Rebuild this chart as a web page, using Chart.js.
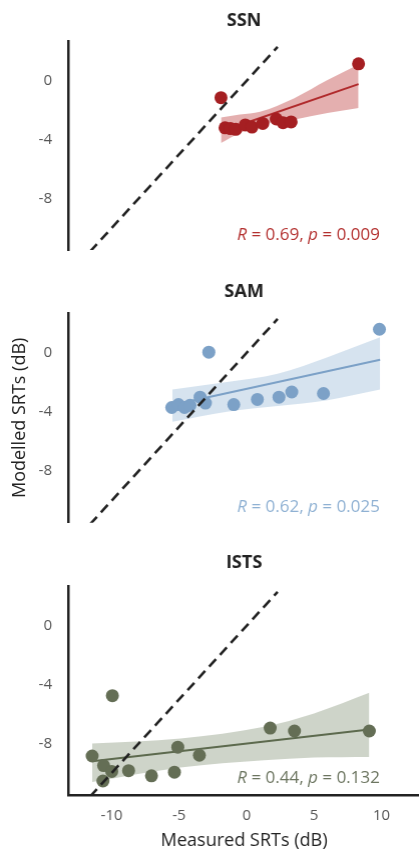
<!DOCTYPE html>
<html>
<head>
<meta charset="utf-8">
<script src="https://cdn.jsdelivr.net/npm/chart.js@4.4.1/dist/chart.umd.min.js"></script>
<style>
  html, body { margin: 0; padding: 0; background: #fff; overflow: hidden; }
  /* a bit wider than the window: Chart.js keeps ~6.5px spare for the dots on the right */
  .panel { position: absolute; left: 0; width: 425.5px; }
</style>
</head>
<body>
<div class="panel" style="top:0;height:270px"><canvas id="ssn"></canvas></div>
<div class="panel" style="top:270px;height:270px"><canvas id="sam"></canvas></div>
<div class="panel" style="top:540px;height:312px"><canvas id="ists"></canvas></div>
<script>
// ticks shared by all three panels
const yTicks = [0, -4, -8];
const xTicks = [-10, -5, 0, 5, 10];
const identityX = [-11.6, 2.3];

// SSN
const ssnMeasured = [-1.9, -1.6, -1.2, -0.8, -0.1, 0.4, 1.2, 2.2, 2.7, 3.3, 8.3];
const ssnModelled = [-1.15, -3.2, -3.25, -3.3, -3.0, -3.15, -2.9, -2.6, -2.85, -2.8, 1.15];
const ssnFitX = [-1.9, 8.3];
const ssnFitY = [-3.45, -0.23];
const ssnBandX = [-1.9, -0.5, 1.0, 3.5, 6.0, 8.3];
const ssnBandUp = [-2.5, -2.3, -2.1, -1.2, 0.05, 1.1];
const ssnBandLo = [-4.23, -3.55, -3.0, -2.65, -2.2, -1.85];

// SAM
const samMeasured = [-5.55, -5.05, -4.6, -4.2, -3.45, -3.05, -2.8, -0.95, 0.8, 2.4, 3.35, 5.7, 9.85];
const samModelled = [-3.7, -3.5, -3.7, -3.55, -3.0, -3.4, 0.05, -3.5, -3.15, -3.0, -2.65, -2.75, 1.6];
const samFitX = [-5.5, 9.9];
const samFitY = [-3.53, -0.47];
const samBandX = [-5.5, -1.45, 2.3, 6.0, 9.9];
const samBandUp = [-2.48, -1.97, -1.41, -0.29, 1.05];
const samBandLo = [-4.66, -3.98, -3.6, -3.2, -2.48];

// ISTS
const istsMeasured = [-11.45, -10.6, -10.0, -10.65, -9.95, -8.75, -7.05, -5.35, -5.1, -3.5, 1.75, 3.55, 9.1];
const istsModelled = [-8.85, -9.5, -9.9, -10.55, -4.75, -9.85, -10.2, -9.95, -8.25, -8.8, -6.95, -7.15, -7.15];
const istsFitX = [-11.45, 9.1];
const istsFitY = [-9.2, -7.05];
const istsBandX = [-11.45, -4.9, 1.3, 5.0, 9.1];
const istsBandUp = [-8.0, -7.66, -6.87, -5.96, -4.56];
const istsBandLo = [-10.61, -9.63, -9.14, -8.95, -8.91];

const fam = '"Open Sans", sans-serif';
Chart.defaults.font.family = fam;

function pts(xs, ys) {
  return xs.map((x, i) => ({ x: x, y: ys[i] }));
}

// "R = .., p = .." with italic letters, right aligned
const statText = {
  id: 'statText',
  afterDatasetsDraw(chart, args, opts) {
    const ctx = chart.ctx;
    const area = chart.chartArea;
    const parts = [['R', true], [' = ' + opts.r + ', ', false], ['p', true], [' = ' + opts.p, false]];
    ctx.save();
    ctx.fillStyle = opts.color;
    ctx.textBaseline = 'middle';
    ctx.textAlign = 'left';
    let x = area.right - 40;
    const y = area.bottom - opts.dy;
    for (let i = parts.length - 1; i >= 0; i--) {
      ctx.font = (parts[i][1] ? 'italic ' : '') + '17px ' + fam;
      x -= ctx.measureText(parts[i][0]).width;
      ctx.fillText(parts[i][0], x, y);
    }
    ctx.restore();
  }
};

function makePanel(id, p) {
  return new Chart(document.getElementById(id), {
    type: 'scatter',
    data: {
      datasets: [
        { data: pts(identityX, identityX), showLine: true, borderColor: '#222', borderWidth: 2.6,
          borderDash: [10, 6], pointRadius: 0, order: 0 },
        { data: pts(p.measured, p.modelled), backgroundColor: p.dot, borderWidth: 0,
          pointRadius: 6.5, order: 1 },
        { data: pts(p.fitX, p.fitY), showLine: true, borderColor: p.line, borderWidth: 2,
          pointRadius: 0, order: 2 },
        { data: pts(p.bandX, p.bandUp), showLine: true, borderColor: 'rgba(0,0,0,0)', borderWidth: 0,
          pointRadius: 0, fill: '+1', backgroundColor: p.band, cubicInterpolationMode: 'monotone', order: 3 },
        { data: pts(p.bandX, p.bandLo), showLine: true, borderColor: 'rgba(0,0,0,0)', borderWidth: 0,
          pointRadius: 0, cubicInterpolationMode: 'monotone', order: 4 }
      ]
    },
    options: {
      responsive: true,
      maintainAspectRatio: false,
      animation: false,
      events: [],
      layout: { padding: { top: p.padTop, bottom: p.padBottom, left: 0, right: 0 } },
      plugins: {
        legend: { display: false },
        tooltip: { enabled: false },
        title: {
          display: true, text: p.title, color: '#222', fullSize: false,
          font: { size: 18, weight: 'bold', family: fam },
          padding: { top: 0, bottom: p.titleGap }
        },
        statText: { r: p.r, p: p.p, color: p.text, dy: p.statDy }
      },
      scales: {
        x: {
          type: 'linear', min: -13.23, max: 12.86, display: p.showX,
          grid: { display: false, drawTicks: false },
          border: { display: true, color: '#222', width: 2.5 },
          ticks: { padding: 12, color: '#555', font: { size: 15 } },
          afterBuildTicks: s => { s.ticks = xTicks.map(v => ({ value: v })); },
          afterFit: s => {
            s.height = p.showX ? 57 : 0;
            s.paddingLeft = 0;
            s.paddingRight = 0;
          },
          title: {
            display: true, text: 'Measured SRTs (dB)', color: '#222',
            font: { size: 18 }, padding: { top: 0, bottom: 0 }
          }
        },
        y: {
          type: 'linear', min: -11.5, max: 2.7,
          grid: { display: false, drawTicks: false },
          border: { display: true, color: '#222', width: 2.5 },
          ticks: { padding: 16, color: '#555', font: { size: 15 } },
          afterBuildTicks: s => { s.ticks = yTicks.map(v => ({ value: v })); },
          afterFit: s => {
            s.width = 68;
            s.paddingTop = 0;
            s.paddingBottom = 0;
          },
          title: {
            display: p.yTitle, text: 'Modelled SRTs (dB)', color: '#222',
            font: { size: 18 }, padding: { top: 9, bottom: 0 }
          }
        }
      }
    },
    plugins: [statText]
  });
}

makePanel('ssn', {
  title: 'SSN', measured: ssnMeasured, modelled: ssnModelled, fitX: ssnFitX, fitY: ssnFitY,
  bandX: ssnBandX, bandUp: ssnBandUp, bandLo: ssnBandLo,
  dot: '#a51f22', line: '#b02a2c', band: 'rgba(205,110,110,0.55)', text: '#b3302f',
  r: '0.69', p: '0.009', showX: false, yTitle: false,
  padTop: 10, titleGap: 9.4, padBottom: 20, statDy: 15
});

makePanel('sam', {
  title: 'SAM', measured: samMeasured, modelled: samModelled, fitX: samFitX, fitY: samFitY,
  bandX: samBandX, bandUp: samBandUp, bandLo: samBandLo,
  dot: '#7ca1c7', line: '#7ca1c7', band: 'rgba(180,204,226,0.55)', text: '#8fb1d3',
  r: '0.62', p: '0.025', showX: false, yTitle: true,
  padTop: 11, titleGap: 10.4, padBottom: 17.3, statDy: 16
});

makePanel('ists', {
  title: 'ISTS', measured: istsMeasured, modelled: istsModelled, fitX: istsFitX, fitY: istsFitY,
  bandX: istsBandX, bandUp: istsBandUp, bandLo: istsBandLo,
  dot: '#646e55', line: '#5d6a4e', band: 'rgba(180,189,172,0.65)', text: '#6c7560',
  r: '0.44', p: '0.132', showX: true, yTitle: false,
  padTop: 12.5, titleGap: 11.9, padBottom: 0, statDy: 17
});
</script>
</body>
</html>
